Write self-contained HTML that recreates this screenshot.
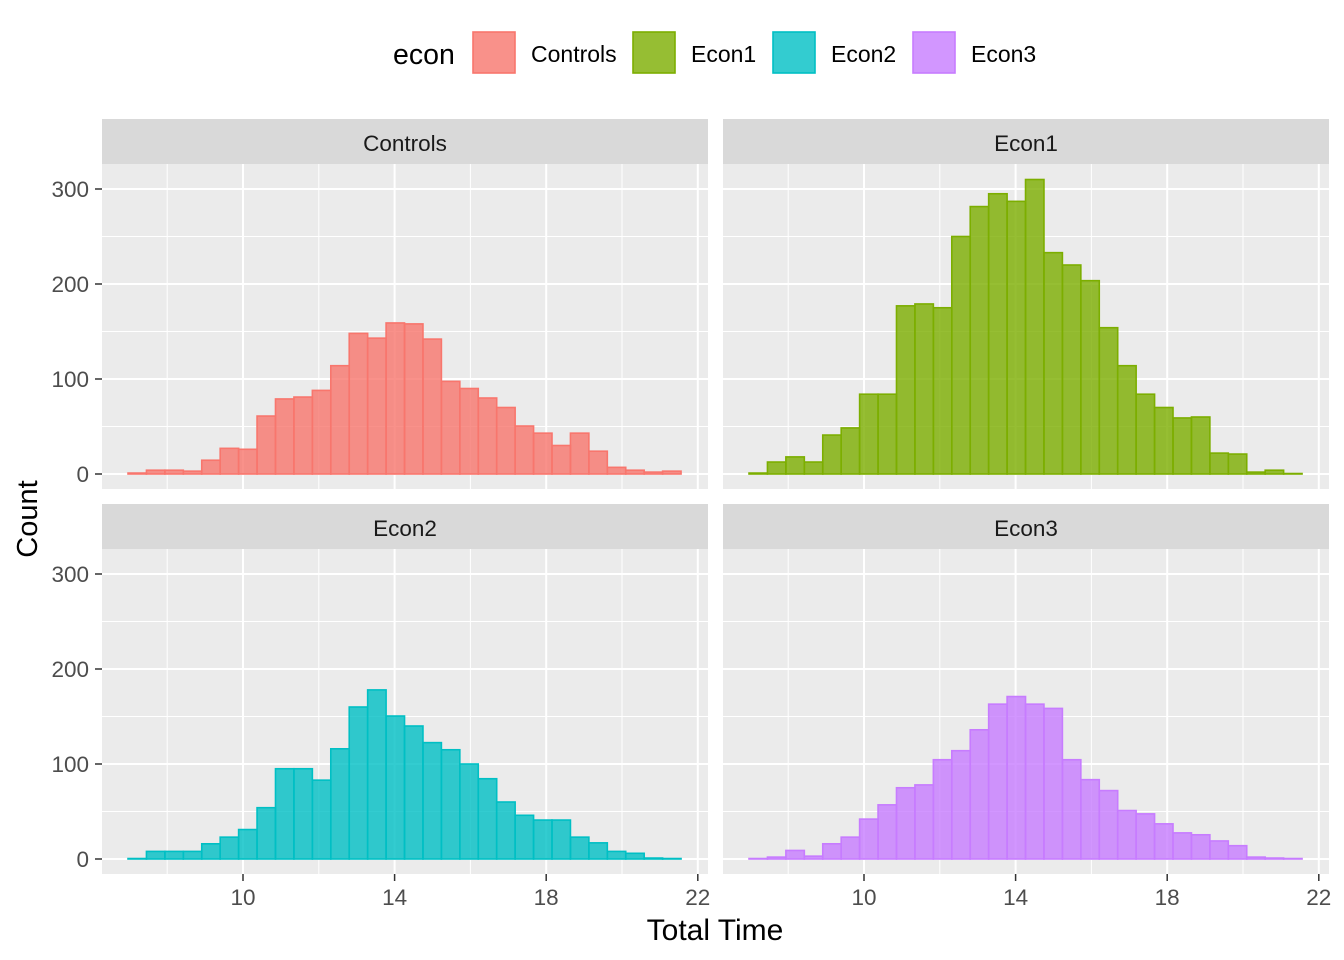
<!DOCTYPE html>
<html><head><meta charset="utf-8"><style>
html,body{margin:0;padding:0;background:#fff}
svg{display:block;font-family:"Liberation Sans",Arial,sans-serif}
</style></head><body>
<svg id="chart" width="1344" height="960" xmlns="http://www.w3.org/2000/svg"></svg>
<script>
const panelNames = ["Controls","Econ1","Econ2","Econ3"];
const fillColors = ["#F8766D","#7CAE00","#00BFC4","#C77CFF"];
const binStart = 6.966;
const binWidth = 0.4864;
const countsControls = [1,4,4,3,14.5,27,26,61,79,81,88,114,148,143,159,158,142,97.5,90,80,70,50.5,43,30,43,24,7,4,2,3];
const countsEcon1 = [1,12.6,18,12.6,41,48.5,84,84,177,179,175,250,281.5,295,287,310,233,220,203.5,154,114,84,70,59,60,22,21,2,4,0.5];
const countsEcon2 = [0.5,8,8,8,16,23,31,54,95,95,83,116,160,178,150.5,140,122.5,115,100,84.5,60,46,41,41,23,17,8,6,1,0.5];
const countsEcon3 = [0.5,2,9,3,16,23,42,57,75,78,104.5,114,136,163,171,163,158.5,104.5,83.5,72,51,47.5,37,27.5,25.5,19,14,2,1,0.5];
const xTicks = [10,14,18,22];
const xMinor = [8,12,16,20];
const yTicks = [0,100,200,300];
const yMinor = [50,150,250];

const allCounts = [countsControls,countsEcon1,countsEcon2,countsEcon3];
const NS="http://www.w3.org/2000/svg";
const svg=document.getElementById('chart');
function el(t,a,p){const e=document.createElementNS(NS,t);for(const k in a)e.setAttribute(k,a[k]);(p||svg).appendChild(e);return e;}
function txt(s,a,p){const e=el('text',a,p);e.textContent=s;return e;}

const panels=[{x0:102,y0:164},{x0:723,y0:164},{x0:102,y0:549},{x0:723,y0:549}];
const PW=606, PH=325;
function xs(p,v){return p.x0+141+(v-10)*37.9;}
function ys(p,c){return p.y0+310-c*0.95;}

panels.forEach((p,i)=>{
  const g=el('g',{});
  
  
  const strip=el('rect',{x:p.x0,y:p.y0-45,width:PW,height:45,fill:'#D9D9D9'},g);
  
  
  const st=txt(panelNames[i],{x:p.x0+PW/2,y:p.y0-13,'text-anchor':'middle','font-size':22.5,fill:'#1A1A1A'},g);
  
  
  const bg=el('rect',{x:p.x0,y:p.y0,width:PW,height:PH,fill:'#EBEBEB'},g);
  
  
  xMinor.forEach(v=>{el('line',{x1:xs(p,v),x2:xs(p,v),y1:p.y0,y2:p.y0+PH,stroke:'#fff','stroke-width':1},g);});
  yMinor.forEach(v=>{el('line',{x1:p.x0,x2:p.x0+PW,y1:ys(p,v),y2:ys(p,v),stroke:'#fff','stroke-width':1},g);});
  xTicks.forEach(v=>{el('line',{x1:xs(p,v),x2:xs(p,v),y1:p.y0,y2:p.y0+PH,stroke:'#fff','stroke-width':2},g);});
  yTicks.forEach(v=>{el('line',{x1:p.x0,x2:p.x0+PW,y1:ys(p,v),y2:ys(p,v),stroke:'#fff','stroke-width':2},g);});
  allCounts[i].forEach((c,j)=>{
    const a=binStart+j*binWidth;
    const x1=xs(p,a), x2=xs(p,a+binWidth);
    const b=el('rect',{x:x1,y:ys(p,c),width:x2-x1,height:ys(p,0)-ys(p,c),fill:fillColors[i],'fill-opacity':0.8,stroke:fillColors[i],'stroke-width':1.6},g);
    
    
  });
  if(p.x0===102){
    yTicks.forEach(v=>{
      el('line',{x1:p.x0-7,x2:p.x0,y1:ys(p,v),y2:ys(p,v),stroke:'#333','stroke-width':1.5},g);
      const t=txt(String(v),{x:p.x0-13,y:ys(p,v)+8,'text-anchor':'end','font-size':22.5,fill:'#4D4D4D'},g);
      
      
    });
  }
  if(p.y0===549){
    xTicks.forEach(v=>{
      el('line',{x1:xs(p,v),x2:xs(p,v),y1:p.y0+PH,y2:p.y0+PH+7,stroke:'#333','stroke-width':1.5},g);
      const t=txt(String(v),{x:xs(p,v),y:p.y0+PH+31,'text-anchor':'middle','font-size':22.5,fill:'#4D4D4D'},g);
      
      
    });
  }
});

const xt=txt('Total Time',{x:715,y:940,'text-anchor':'middle','font-size':30,fill:'#000'});


const yt=txt('Count',{x:0,y:0,'text-anchor':'middle','font-size':29,fill:'#000',transform:'translate(37,519) rotate(-90)'});



const lt=txt('econ',{x:393,y:64,'font-size':28.5,fill:'#000'});


const keyX=[472,632,772,912];
panelNames.forEach((n,i)=>{
  const g=el('g',{});
  
  
  el('rect',{x:keyX[i]+1,y:32,width:42,height:41,fill:fillColors[i],'fill-opacity':0.8,stroke:fillColors[i],'stroke-width':1.6},g);
  txt(n,{x:keyX[i]+59,y:62,'font-size':23,fill:'#000'},g);
});
</script>
</body></html>
